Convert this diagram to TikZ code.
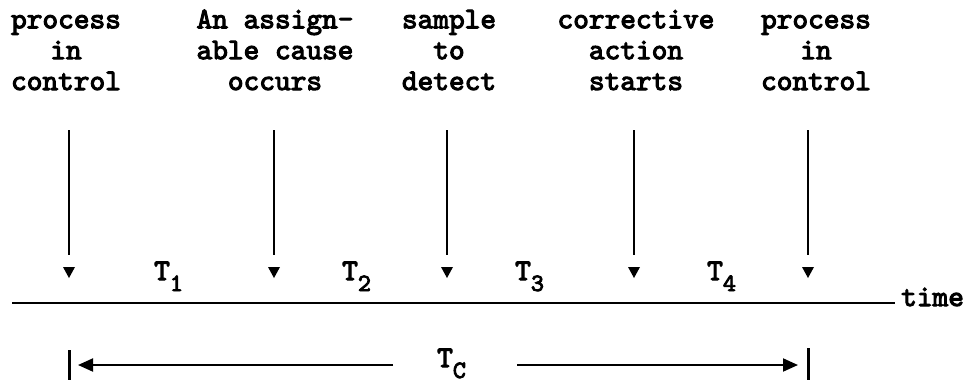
\documentclass[tikz,border=0pt]{standalone}
\usepackage{fontspec}
\newfontfamily\twfont{lmmono10-regular.otf}[FakeBold=3.5]
\usetikzlibrary{arrows.meta}
\newcommand\tsub[1]{\raisebox{-11bp}{\fontsize{25}{25}\selectfont #1}}
\begin{document}
\begin{tikzpicture}[x=1bp,y=-1bp,
  lbl/.style={font=\fontsize{30}{31}\selectfont\twfont, align=center, anchor=base, inner sep=0},
  tlbl/.style={font=\fontsize{30}{31}\selectfont\twfont, anchor=base west, inner sep=0},
  vline/.style={line width=2.3bp},
  axis/.style={line width=2bp},
  dimarrow/.style={line width=2bp, -{Triangle[length=15bp,width=13bp]}},
  endbar/.style={line width=3bp}]
\useasboundingbox (0,0) rectangle (974,385);

% event labels (anchored on the baseline of their last line)
\node[lbl] (L1) at (66,90)  {process\\in\\control};
\node[lbl] (L2) at (275,90) {An assign-\\able cause\\occurs};
\node[lbl] (L3) at (449,90) {sample\\to\\detect};
\node[lbl] (L4) at (636,90) {corrective\\action\\starts};
\node[lbl] (L5) at (816,90) {process\\in\\control};

% event arrows
\foreach \i/\x in {1/69,2/274,3/447,4/634,5/808}{
  \coordinate (s\i) at (\x,130);
  \coordinate (e\i) at (\x,255);
  \draw[vline] (s\i) -- (e\i);
  \fill (e\i) ++(-6,12) -- ++(12,0) -- ++(-6,11) -- cycle;
}

% interval labels
\node[tlbl] (T1) at (154,280) {T\tsub{1}};
\node[tlbl] (T2) at (342,280) {T\tsub{2}};
\node[tlbl] (T3) at (515,280) {T\tsub{3}};
\node[tlbl] (T4) at (707,280) {T\tsub{4}};

% time axis
\node[tlbl] (time) at (901,306) {time};
\coordinate (t0) at (12,303);
\draw[axis, shorten >=6bp] (t0) -- (t0 -| time.west);

% cycle length
\coordinate (bl1) at (69,350);
\coordinate (bl2) at (69,380);
\coordinate (br1) at (808,348);
\coordinate (br2) at (808,380);
\draw[endbar] (bl1) -- (bl2);
\draw[endbar] (br1) -- (br2);
\node[tlbl] (Tc) at (437,367) {T\tsub{C}};
\coordinate (la) at (393,365);
\coordinate (ra) at (517,365);
\draw[dimarrow, shorten >=9bp] (la) -- (bl1 |- la);
\draw[dimarrow, shorten >=10bp] (ra) -- (br1 |- ra);
\end{tikzpicture}
\end{document}
